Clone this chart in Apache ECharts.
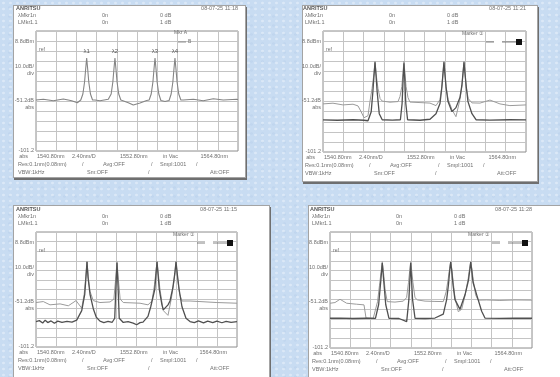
<!DOCTYPE html>
<html>
<head>
<meta charset="utf-8">
<script src="https://cdn.jsdelivr.net/npm/echarts@6/dist/echarts.min.js"></script>
<style>
html,body{margin:0;padding:0;width:560px;height:377px;overflow:hidden;}
body{background-color:#c8dcf2;
background-image:radial-gradient(rgba(255,255,255,0.35) 1px, transparent 2px),radial-gradient(rgba(170,195,230,0.25) 1px, transparent 2px);
background-size:7px 6px,11px 9px;background-position:0 0,4px 3px;}
.panel{position:absolute;background:#fff;border:1px solid #a4a4a4;box-shadow:1px 2px 0 #6f6f6f;}
#chart{position:absolute;left:0;top:0;width:560px;height:377px;}
</style>
</head>
<body>
<div class="panel" style="left:13px;top:5px;width:231px;height:171px;"></div>
<div class="panel" style="left:302px;top:5px;width:234px;height:175px;"></div>
<div class="panel" style="left:13px;top:205px;width:255px;height:175px;"></div>
<div class="panel" style="left:308px;top:205px;width:260px;height:175px;"></div>
<div id="chart"></div>
<script>
// ---- axis scale (wavelength nm, level dBm) ----
const wlMin = 1540.8, wlMax = 1564.8, wlStep = 2.4;
const dbMin = -110, dbMax = 10, dbStep = 10;

// ---- texts ----
const brand = 'ANRITSU';
const dates = ['08-07-25 11:18', '08-07-25 11:21', '08-07-25 11:15', '08-07-25 11:28'];
const headerRow1 = ['λMkr', '1n', '0n', '0 dB'];
const headerRow2 = ['LMkr', '1.1', '0n', '1 dB'];
const levelLabels = ['8.8dBm', '10.0dB/', '-51.2dB', '-101.2'];
const levelSubLabels = ['div', 'abs', 'abs'];
const wlLabels = ['1540.80nm', '2.40nm/D', '1552.80nm', 'in Vac', '1564.80nm'];
const footRow2 = ['Res:0.1nm(0.08nm)', '/', 'Avg:OFF', '/', 'Smpl:1001', '/'];
const footRow3 = ['VBW:1kHz', 'Sm:OFF', '/', 'Att:OFF'];
const peakNames = ['λ1', 'λ2', 'λ3', 'λ4'];
const peakNm = [1546.82, 1550.18, 1554.94, 1557.31];
const peakDb = [-17, -17, -17, -17];

// ---- panel 1: single trace ----
const p1Trace = [
[1540.8,-59],[1541.67,-58.3],[1542.86,-59.7],[1544.05,-58],[1545.04,-59.7],[1545.71,-61.7],
[1546.12,-59],[1546.37,-53],[1546.57,-41],[1546.70,-28],[1546.82,-17],[1546.94,-28],[1547.07,-41],[1547.27,-53],[1547.52,-59],
[1547.81,-59],[1548.4,-59.7],[1549.39,-58.3],
[1549.48,-59],[1549.73,-53],[1549.93,-41],[1550.06,-28],[1550.18,-17],[1550.30,-28],[1550.43,-41],[1550.63,-53],[1550.88,-59],
[1550.99,-59.5],[1551.77,-61.7],[1552.36,-64],[1553.16,-62],[1553.95,-59.5],
[1554.24,-59],[1554.49,-53],[1554.69,-41],[1554.82,-28],[1554.94,-17],[1555.06,-28],[1555.19,-41],[1555.39,-53],[1555.64,-59.5],
[1556.13,-60.5],
[1556.61,-59.5],[1556.86,-53],[1557.06,-41],[1557.19,-28],[1557.31,-17],[1557.43,-28],[1557.56,-41],[1557.76,-53],[1558.01,-59],
[1558.3,-59],[1559.5,-58.3],[1560.67,-59.7],[1561.87,-57.7],[1563.05,-59],[1564.65,-58.3],[1564.8,-58.5]];

// ---- panel 2 ----
const p2Upper = [
[1540.8,-62.3],[1541.98,-61.6],[1543.16,-63.3],[1544.35,-62.6],[1544.94,-64.3],[1545.3,-70],[1545.65,-76],[1546.12,-74],
[1546.35,-60],[1546.6,-47],[1546.83,-32],[1546.95,-20],[1547.07,-32],[1547.3,-47],[1547.55,-57],[1547.8,-59.5],
[1548.72,-60.6],[1549.67,-60],[1549.9,-55],[1550.12,-45],[1550.25,-32],[1550.37,-20],[1550.49,-32],[1550.62,-45],[1550.85,-56],
[1551.08,-60.5],[1552.27,-61],[1553.45,-61.5],[1554.16,-64],[1554.63,-58],[1554.85,-45],[1554.98,-32],[1555.1,-20],[1555.22,-32],
[1555.35,-45],[1555.6,-58],[1556.05,-68],[1556.52,-75],[1556.99,-58],[1557.22,-45],[1557.35,-32],[1557.47,-20],[1557.59,-32],
[1557.72,-45],[1557.97,-57],[1558.41,-61.3],[1559.36,-61.5],[1560.54,-58.5],[1561.72,-62.3],[1562.9,-64],[1564.8,-63.3]];
const p2Lower = [
[1540.8,-78.1],[1542.5,-78.5],[1544.35,-78],[1545.65,-78.5],[1546.12,-79],[1546.5,-70],[1546.7,-50],[1546.83,-34],[1546.95,-21],
[1547.07,-34],[1547.2,-50],[1547.45,-72],[1547.8,-78],[1549,-78.3],[1549.95,-78],[1550.15,-62],[1550.27,-38],[1550.37,-22],
[1550.47,-38],[1550.59,-62],[1550.8,-78],[1552.27,-78.5],[1553.45,-77.5],[1554.16,-72],[1554.63,-62],[1554.85,-46],[1554.98,-33],
[1555.1,-21],[1555.22,-33],[1555.35,-46],[1555.58,-60],[1556.05,-70],[1556.52,-66],[1556.99,-56],[1557.22,-44],[1557.35,-32],
[1557.47,-21],[1557.59,-32],[1557.72,-44],[1557.94,-60],[1558.41,-72],[1558.89,-78],[1560.54,-78.3],[1562.9,-78],[1564.8,-78.2]];

// ---- panel 3 ----
const p3Upper = [
[1540.8,-63.6],[1541.67,-62.6],[1542.47,-66],[1543.67,-65],[1544.66,-67],[1545.58,-61.6],[1546.26,-69.5],[1546.55,-55],
[1546.75,-36],[1546.89,-21],[1547.03,-36],[1547.25,-52],[1547.64,-61.6],[1548.44,-63.6],[1549.64,-63],[1550.1,-60],
[1550.3,-40],[1550.47,-21],[1550.64,-40],[1550.85,-60],[1551.22,-63.6],[1553.22,-64.3],[1554.17,-66],[1554.65,-62],
[1554.95,-45],[1555.1,-33],[1555.25,-21],[1555.4,-33],[1555.58,-48],[1555.84,-64],[1556.0,-72],[1556.56,-77],
[1556.95,-60],[1557.3,-40],[1557.52,-21],[1557.72,-40],[1557.95,-55],[1558.23,-62],[1559.19,-62],[1560.38,-62.6],
[1562.4,-63.6],[1564.8,-64.3]];
const p3Lower = [
[1540.8,-83.4],[1541.2,-82.5],[1541.6,-85],[1541.9,-82],[1542.2,-84.5],[1542.6,-82.8],[1543.0,-85.2],[1543.4,-83],
[1543.9,-84.4],[1544.5,-83.2],[1545.1,-84],[1545.66,-82],[1546.26,-72],[1546.62,-55],[1546.76,-38],[1546.89,-21],
[1547.02,-38],[1547.25,-55],[1547.64,-70],[1548.0,-79],[1548.44,-83],[1548.9,-84.5],[1549.4,-83.3],[1549.9,-84.2],
[1550.2,-80],[1550.33,-50],[1550.47,-22],[1550.61,-50],[1550.74,-80],[1551.22,-84.4],[1551.8,-83.6],[1552.4,-85],
[1552.82,-86.8],[1553.22,-84.6],[1553.58,-84],[1554.17,-78],[1554.5,-68],[1554.98,-50],[1555.12,-35],[1555.25,-21],
[1555.38,-35],[1555.52,-50],[1555.84,-66],[1556.0,-71.3],[1556.56,-66],[1556.8,-62],[1557.14,-48],[1557.38,-33],
[1557.52,-21],[1557.66,-33],[1557.89,-50],[1558.23,-68],[1558.71,-80],[1559.19,-83.4],[1559.7,-84.6],[1560.2,-82.8],
[1560.8,-84.8],[1561.3,-83],[1561.9,-84.5],[1562.4,-82.9],[1563.0,-84.7],[1563.5,-83.2],[1564.1,-84.4],[1564.8,-83.6]];

// ---- panel 4 ----
const p4Upper = [
[1540.8,-63.7],[1541.39,-63],[1541.99,-59.6],[1542.78,-63.7],[1543.97,-64.7],[1544.84,-65.4],[1545.08,-79],[1545.94,-79.2],
[1546.45,-62],[1546.68,-45],[1546.86,-32],[1547.01,-20.7],[1547.16,-32],[1547.35,-50],[1547.6,-62],[1548.52,-62.5],
[1549.51,-61.5],[1549.9,-58],[1550.13,-42],[1550.27,-30],[1550.39,-20.7],[1550.51,-30],[1550.65,-42],[1550.9,-58],
[1551.2,-60.3],[1552.09,-61.5],[1553.27,-61.8],[1554.26,-62],[1554.6,-52],[1554.85,-38],[1555.01,-28],[1555.14,-20.7],
[1555.27,-28],[1555.44,-42],[1555.65,-58],[1556.04,-72.4],[1556.44,-70],[1556.84,-56],[1557.22,-38],[1557.38,-28],
[1557.52,-20.7],[1557.66,-28],[1557.82,-40],[1558.1,-55],[1558.4,-60.5],[1559.42,-60.3],[1560.99,-60.8],[1562.78,-60.3],[1564.8,-60.5]];
const p4Lower = [
[1540.8,-79.2],[1542,-79],[1543.5,-79.5],[1545.08,-79.2],[1546.2,-79.3],[1546.58,-65],[1546.84,-40],[1547.01,-22],
[1547.18,-40],[1547.42,-65],[1547.8,-79.2],[1549.0,-79.5],[1549.91,-82.7],[1550.17,-60],[1550.39,-22],[1550.61,-60],
[1550.9,-79.2],[1552.09,-79.5],[1553.27,-79],[1554.26,-75],[1554.66,-60],[1554.88,-44],[1555.02,-30],[1555.14,-21],
[1555.26,-30],[1555.42,-45],[1555.65,-60],[1556.24,-70],[1556.84,-55],[1557.25,-40],[1557.4,-30],[1557.52,-21],
[1557.64,-30],[1557.79,-42],[1558.23,-55],[1558.82,-72],[1559.21,-79],[1560.99,-79.3],[1562.78,-79],[1564.8,-79.2]];

// ---- layout (pixels) ----
const grids = [
  {left:36, top:31, width:202, height:120},
  {left:323, top:31, width:203, height:121},
  {left:36, top:232, width:201, height:115},
  {left:330, top:232, width:202, height:116}
];

const txtColor = '#707070';
const FONT = 'Liberation Sans, Arial, sans-serif';
function T(x, y, text, align, size, weight, color) {
  return {type:'text', x:x, y:y, z:100, silent:true,
    style:{text:text, fill:color||txtColor, fontSize:size||5.5, fontFamily:FONT, fontWeight:weight||'normal',
      align:align||'left', textAlign:align||'left', verticalAlign:'middle', textVerticalAlign:'middle'}};
}
function L(x1,y1,x2,y2,color,w){
  return {type:'line', z:100, silent:true, shape:{x1:x1,y1:y1,x2:x2,y2:y2}, style:{stroke:color||'#777', lineWidth:w||0.8}};
}

const graphics = [];
grids.forEach((g, i) => {
  const l = g.left, t = g.top, r = g.left + g.width, b = g.top + g.height;
  graphics.push(T(l-20, t-23, brand, 'left', 5.5, 'bold', '#555'));
  graphics.push(T(r, t-23, dates[i], 'right'));
  const hx = [l-18, l-6, l+66, l+124];
  headerRow1.forEach((s, k) => graphics.push(T(hx[k], t-16, s)));
  headerRow2.forEach((s, k) => graphics.push(T(hx[k], t-9, s)));
  graphics.push(T(l-2, t+10, levelLabels[0], 'right'));
  graphics.push(T(l-2, t+35, levelLabels[1], 'right'));
  graphics.push(T(l-2, t+42, levelSubLabels[0], 'right'));
  graphics.push(T(l-2, t+69, levelLabels[2], 'right'));
  graphics.push(T(l-2, t+76, levelSubLabels[1], 'right'));
  graphics.push(T(l-2, b-1, levelLabels[3], 'right'));
  graphics.push(T(l-8, b+5, levelSubLabels[2], 'right'));
  graphics.push(T(l+3, t+19, 'ref', 'left', 5));
  const bx = [l+1, l+36, l+84, l+127];
  wlLabels.slice(0,4).forEach((s, k) => graphics.push(T(bx[k], b+5, s)));
  graphics.push(T(r-10, b+5, wlLabels[4], 'right'));
  const f2 = [l-18, l+46, l+67, l+115, l+124, l+160];
  footRow2.forEach((s, k) => graphics.push(T(f2[k], b+13, s)));
  const f3 = [l-18, l+51, l+112, l+174];
  footRow3.forEach((s, k) => graphics.push(T(f3[k], b+21, s)));
  if (i === 0) {
    graphics.push(T(r-64, t+2, 'Mkr A', 'left', 5));
    graphics.push(L(r-60, t+11, r-52, t+11));
    graphics.push(T(r-50, t+11, 'B', 'left', 5));
  } else {
    graphics.push(T(r-64, t+3, 'Marker ①', 'left', 5));
    graphics.push(L(r-40, t+11, r-8, t+11, '#666', 0.8));
    graphics.push({type:'rect', z:101, silent:true, shape:{x:r-32, y:t+8, width:8, height:6}, style:{fill:'#fff'}});
    graphics.push(T(r-28, t+11, 'L1', 'center', 4.5));
    graphics.push({type:'rect', z:101, silent:true, shape:{x:r-10, y:t+8, width:6, height:6}, style:{fill:'#111'}});
  }
});

const xAxes = grids.map((g, i) => ({type:'value', gridIndex:i, min:wlMin, max:wlMax, interval:wlStep,
  axisLabel:{show:false}, axisTick:{show:false}, axisLine:{show:false},
  splitLine:{show:true, lineStyle:{color:'#c4c4c4', width:1}}}));
const yAxes = grids.map((g, i) => ({type:'value', gridIndex:i, min:dbMin, max:dbMax, interval:dbStep,
  axisLabel:{show:false}, axisTick:{show:false}, axisLine:{show:false},
  splitLine:{show:true, lineStyle:{color:'#c4c4c4', width:1}}}));

function lineSeries(idx, data, color, width) {
  return {type:'line', xAxisIndex:idx, yAxisIndex:idx, data:data, showSymbol:false, symbol:'none',
    animation:false, silent:true, lineStyle:{color:color, width:width}, z:3};
}

const s1 = lineSeries(0, p1Trace, '#858585', 1.1);
s1.markPoint = {symbol:'circle', symbolSize:1, itemStyle:{color:'rgba(0,0,0,0)'}, animation:false,
  label:{show:true, position:'top', distance:3, fontSize:6, color:'#555', fontFamily:FONT, formatter:p => p.name},
  data: peakNames.map((n, k) => ({name:n, coord:[peakNm[k], peakDb[k]]}))};

const series = [
  s1,
  lineSeries(1, p2Upper, '#9a9a9a', 1), lineSeries(1, p2Lower, '#505050', 1.3),
  lineSeries(2, p3Upper, '#9a9a9a', 1), lineSeries(2, p3Lower, '#505050', 1.3),
  lineSeries(3, p4Upper, '#9a9a9a', 1), lineSeries(3, p4Lower, '#505050', 1.3)
];

const chart = echarts.init(document.getElementById('chart'), null, {renderer:'canvas'});
chart.setOption({
  backgroundColor:'transparent',
  animation:false,
  grid: grids.map(g => Object.assign({show:true, borderColor:'#8e8e8e', borderWidth:1, backgroundColor:'transparent'}, g)),
  xAxis: xAxes,
  yAxis: yAxes,
  series: series,
  graphic: {elements: graphics}
});
</script>
</body>
</html>
